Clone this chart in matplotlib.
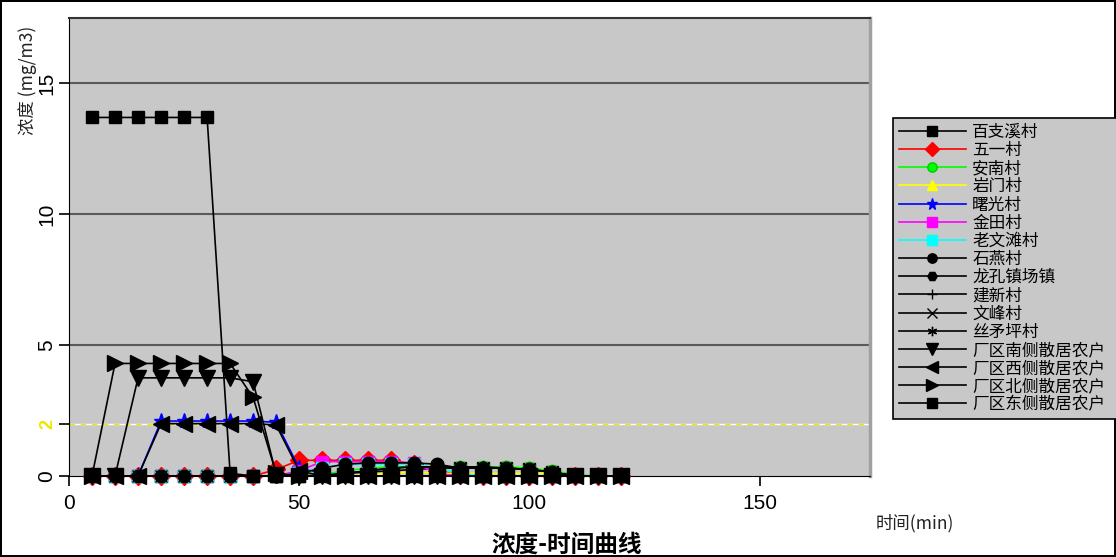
import matplotlib.pyplot as plt

plt.rcParams["font.family"] = ["Liberation Sans", "Noto Sans CJK SC", "DejaVu Sans"]
CJK = ["Noto Sans CJK SC", "DejaVu Sans"]

# time axis (min)
times = [5, 10, 15, 20, 25, 30, 35, 40, 45, 50, 55, 60,
         65, 70, 75, 80, 85, 90, 95, 100, 105, 110, 115, 120]

names = ["百支溪村", "五一村", "安南村", "岩门村", "曙光村", "金田村", "老文滩村",
         "石燕村", "龙孔镇场镇", "建新村", "文峰村", "丝矛坪村",
         "厂区南侧散居农户", "厂区西侧散居农户", "厂区北侧散居农户", "厂区东侧散居农户"]

baizhixi = [0, 0, 0, 0, 0, 0, 0, 0, 0, 0, 0.05, 0.1, 0.15, 0.2, 0.25, 0.3,
            0.3, 0.3, 0.3, 0.25, 0.15, 0, 0, 0]
wuyi = [0, 0, 0, 0, 0, 0, 0, 0, 0.25, 0.6, 0.6, 0.6, 0.6, 0.6, 0.45, 0.2,
        0.05, 0, 0, 0, 0, 0, 0, 0]
annan = [0, 0, 0, 0, 0, 0, 0, 0, 0, 0, 0.05, 0.2, 0.3, 0.35, 0.35, 0.35,
         0.35, 0.35, 0.35, 0.3, 0.2, 0.05, 0, 0]
yanmen = [0, 0, 0, 0, 0, 0, 0, 0, 0, 0, 0, 0, 0.05, 0.1, 0.15, 0.1,
          0.1, 0.1, 0.1, 0.1, 0.1, 0, 0, 0]
shuguang = [0, 0, 0, 2.1, 2.1, 2.1, 2.1, 2.1, 2.05, 0.3, 0.1, 0, 0, 0, 0, 0,
            0, 0, 0, 0, 0, 0, 0, 0]
jintian = [0, 0, 0, 0, 0, 0, 0, 0, 0, 0.2, 0.55, 0.55, 0.55, 0.55, 0.5, 0.1,
           0, 0, 0, 0, 0, 0, 0, 0]
laowentan = [0, 0, 0, 0, 0, 0, 0, 0, 0, 0.1, 0.3, 0.45, 0.45, 0.45, 0.45, 0.3,
             0.1, 0, 0, 0, 0, 0, 0, 0]
shiyan = [0, 0, 0, 0, 0, 0, 0, 0, 0, 0.1, 0.3, 0.45, 0.5, 0.5, 0.5, 0.45,
          0.3, 0.3, 0.3, 0.25, 0.15, 0, 0, 0]
longkong = [0] * 24
jianxin = [0] * 24
wenfeng = [0, 0, 0, 0, 0, 0, 0, 0, 0, 0, 0, 0.1, 0.2, 0.3, 0.35, 0.35,
           0.3, 0.3, 0.3, 0.25, 0.15, 0, 0, 0]
simaoping = [0, 0, 0, 0, 0, 0, 0, 0, 0, 0, 0, 0.1, 0.2, 0.3, 0.35, 0.35,
             0.35, 0.35, 0.3, 0.25, 0.15, 0, 0, 0]
south = [0, 0, 3.75, 3.75, 3.75, 3.75, 3.75, 3.6, 0.05, 0, 0, 0, 0, 0, 0, 0,
         0, 0, 0, 0, 0, 0, 0, 0]
west = [0, 0, 0, 2.0, 2.0, 2.0, 2.0, 2.0, 1.95, 0.2, 0, 0, 0, 0, 0, 0,
        0, 0, 0, 0, 0, 0, 0, 0]
north = [0, 4.3, 4.3, 4.3, 4.3, 4.3, 4.3, 3.0, 0.1, 0, 0, 0, 0, 0, 0, 0,
         0, 0, 0, 0, 0, 0, 0, 0]
east = [13.7, 13.7, 13.7, 13.7, 13.7, 13.7, 0.1, 0, 0, 0, 0, 0, 0, 0, 0, 0,
        0, 0, 0, 0, 0, 0, 0, 0]

series = [baizhixi, wuyi, annan, yanmen, shuguang, jintian, laowentan, shiyan,
          longkong, jianxin, wenfeng, simaoping, south, west, north, east]
colors = ["black", "red", "#00ff00", "yellow", "blue", "magenta", "cyan", "black",
          "black", "black", "black", "black", "black", "black", "black", "black"]
markers = ["s", "D", "o", "^", "*", "s", "s", "o",
           "H", "+", "x", (6, 2, 0), "v", "<", ">", "s"]

fig = plt.figure(figsize=(11.16, 5.57), dpi=100, linewidth=1.5, edgecolor="black")
ax = fig.add_axes([69 / 1116, 1 - 476 / 557, (870 - 69) / 1116, (476 - 18) / 557])
ax.set_facecolor("#c8c8c8")

for vals, name, col, mk in zip(series, names, colors, markers):
    ms = 11 if mk in ("v", "<", ">", "*") else 9
    ax.plot(times, vals, color=col, marker=mk, markersize=ms, lw=1.2,
            markerfacecolor=col, markeredgecolor=col if col != "#00ff00" else "#00cc00",
            label=name, clip_on=False, zorder=3)

for yv in (5, 10, 15):
    ax.axhline(yv, color="#5a5a5a", lw=1.5, zorder=1)
ax.axhline(2, color="white", lw=1, zorder=1)
ax.axhline(2, color="#e8e800", lw=1, ls=(0, (4, 4)), zorder=1)

ax.set_xlim(0, 174)
ax.set_ylim(0, 17.5)
ax.set_xticks([0, 50, 100, 150])
ax.set_yticks([0, 2, 5, 10, 15])
ax.set_yticklabels(["0", "2", "5", "10", "15"], rotation=90, va="center")
ax.tick_params(axis="both", direction="out", length=7, width=1.2, labelsize=15)
ax.tick_params(axis="y", pad=2)
ax.tick_params(axis="x", pad=6)
lab2 = ax.get_yticklabels()[1]
lab2.set_color("#e8e800")
lab2.set_fontweight("bold")
lab2.set_fontsize(13)

ax.spines["left"].set_color("black")
ax.spines["bottom"].set_color("black")
ax.spines["top"].set_color("#333333")
ax.spines["right"].set_color("#a0a0a0")
ax.spines["right"].set_linewidth(2.5)
ax.spines["top"].set_linewidth(1.5)

fig.text(28 / 1116, 1 - 80 / 557, "浓度 (mg/m3)", rotation=90, ha="center",
         va="center", fontsize=12.5, family=CJK, color="#222222")
fig.text(915 / 1116, 1 - 523 / 557, "时间(min)", ha="center", va="center",
         fontsize=12.5, family=CJK, color="#222222")
fig.text(567 / 1116, 1 - 545 / 557, "浓度-时间曲线", ha="center", va="center",
         fontsize=17, fontweight="bold", family=CJK)

leg = fig.legend(loc="upper left",
                 bbox_to_anchor=(893 / 1116, 1 - 118 / 557, 226 / 1116, 0),
                 mode="expand", borderaxespad=0, frameon=True, fancybox=False,
                 handlelength=4.0, handletextpad=0.4, labelspacing=0.07,
                 markerscale=0.75, borderpad=0.35, prop={"family": CJK, "size": 12})
leg.get_frame().set_facecolor("#c8c8c8")
leg.get_frame().set_edgecolor("black")
leg.get_frame().set_linewidth(1.2)
leg.get_frame().set_alpha(1)

fig.savefig("out.png", dpi=100, edgecolor=fig.get_edgecolor())
